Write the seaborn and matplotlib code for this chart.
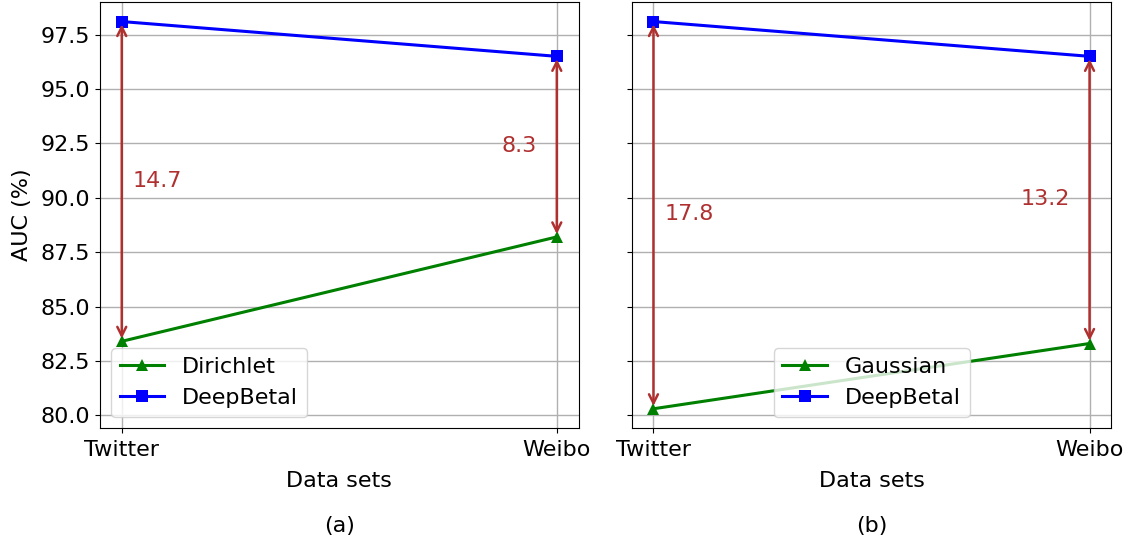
import matplotlib
matplotlib.use("Agg")
import matplotlib.pyplot as plt
import seaborn as sns
import pandas as pd

# AUC (%) per data set
datasets = ["Twitter", "Weibo"]
deepbetal = [98.1, 96.5]
dirichlet = [83.4, 88.2]
gaussian = [80.3, 83.3]
gaps_a = ["14.7", "8.3"]
gaps_b = ["17.8", "13.2"]

FS = 16
plt.rcParams["font.family"] = ["DejaVu Sans"]
plt.rcParams["font.size"] = FS

fig = plt.figure(figsize=(11.3, 5.44), dpi=100)
ax1 = fig.add_axes([0.0885, 0.213, 0.4235, 0.783])
ax2 = fig.add_axes([0.559, 0.213, 0.4245, 0.783], sharey=ax1)


def panel(ax, base_name, base_vals, gaps, text_pos, legend_loc, tag):
    df = pd.DataFrame({
        "dataset": datasets * 2,
        "auc": list(base_vals) + list(deepbetal),
        "method": [base_name] * 2 + ["DeepBetal"] * 2,
    })
    sns.lineplot(
        data=df, x="dataset", y="auc", hue="method", style="method",
        hue_order=[base_name, "DeepBetal"], style_order=[base_name, "DeepBetal"],
        palette={base_name: "green", "DeepBetal": "blue"},
        markers={base_name: "^", "DeepBetal": "s"}, dashes=False,
        markersize=8, markeredgewidth=0, linewidth=2.2, ax=ax,
    )
    ax.grid(True, color="#b0b0b0", linewidth=1)
    ax.set_axisbelow(True)
    ax.set_xlabel("Data sets", fontsize=FS, labelpad=8)
    ax.set_ylabel("")
    for i, name in enumerate(datasets):
        ax.annotate("", xy=(i, base_vals[i]), xytext=(i, deepbetal[i]),
                    arrowprops=dict(arrowstyle="<->", color="#b03030", lw=1.8))
    for (x, y, ha), g in zip(text_pos, gaps):
        ax.text(x, y, g, color="#b03030", fontsize=FS, ha=ha, va="center")
    handles, labels = ax.get_legend_handles_labels()
    ax.legend(handles, labels, loc=legend_loc, fontsize=FS)
    ax.text(0.5, -0.23, tag, transform=ax.transAxes, ha="center", va="center",
            fontsize=FS)


panel(ax1, "Dirichlet", dirichlet, gaps_a,
      [(0.025, 90.77, "left"), (0.955, 92.4, "right")], "lower left", "(a)")
panel(ax2, "Gaussian", gaussian, gaps_b,
      [(0.025, 89.25, "left"), (0.955, 89.94, "right")], "lower center", "(b)")

ax1.set_ylabel("AUC (%)", fontsize=FS, labelpad=6)
ax1.set_yticks([80.0, 82.5, 85.0, 87.5, 90.0, 92.5, 95.0, 97.5])
ax1.yaxis.set_major_formatter(matplotlib.ticker.FormatStrFormatter("%.1f"))
plt.setp(ax2.get_yticklabels(), visible=False)
for ax in (ax1, ax2):
    ax.tick_params(labelsize=FS)
    ax.tick_params(axis="x", pad=5)

fig.savefig("out.png", dpi=100)
